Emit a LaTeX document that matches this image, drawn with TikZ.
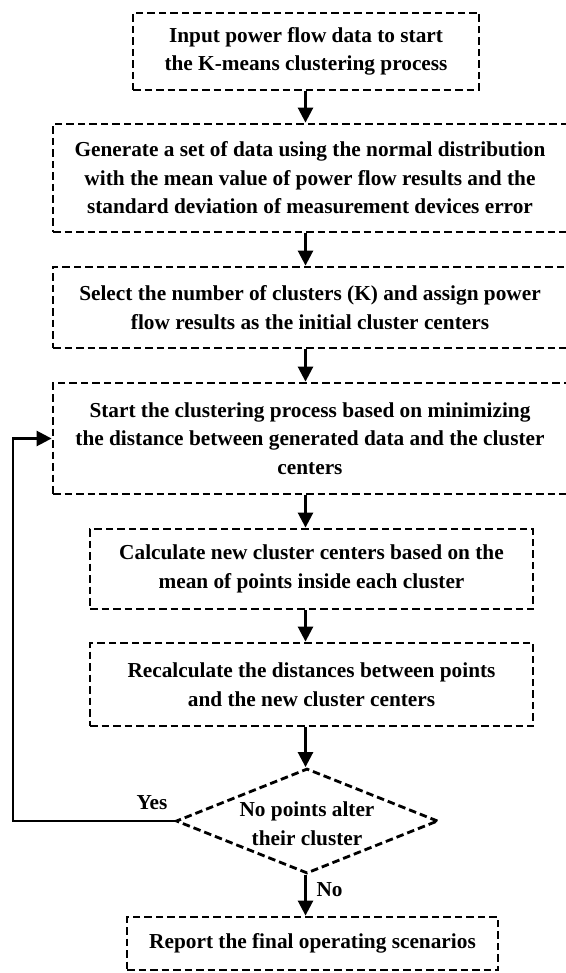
\documentclass[tikz,border=0pt]{standalone}
\usepackage{fontspec}
\setmainfont{Liberation Serif}
\usetikzlibrary{arrows.meta,shapes.geometric}
\newcommand{\flowfont}{\fontsize{21.3}{28.6}\selectfont\bfseries}
\tikzset{
  procbox/.style={draw,line width=2.8pt,dash pattern=on 7.5pt off 4pt,align=center,inner sep=0pt,font=\flowfont},
  decbox/.style={draw,diamond,line width=2.8pt,dash pattern=on 7.5pt off 4pt,inner sep=0pt},
  flow/.style={line width=2.6pt,-{Triangle[length=15pt,width=15pt]}},
  answer/.style={font=\flowfont}
}
\begin{document}
\begin{tikzpicture}[line join=miter,x=1pt,y=-1pt]
    \useasboundingbox (0,0) rectangle (565,973);
    \coordinate (axis) at (305.5,0);
    \coordinate (back) at (13,0);
    % process steps
    \node[procbox,minimum width=346pt,minimum height=77pt] (input) at (306,51.5) {Input power flow data to start\\the K-means clustering process};
    \node[procbox,minimum width=514pt,minimum height=108pt] (generate) at (310,178) {Generate a set of data using the normal distribution\\with the mean value of power flow results and the\\standard deviation of measurement devices error};
    \node[procbox,minimum width=514pt,minimum height=81pt] (select) at (310,307.5) {Select the number of clusters (K) and assign power\\flow results as the initial cluster centers};
    \node[procbox,minimum width=514pt,minimum height=111pt] (start) at (310,438.5) {Start the clustering process based on minimizing\\the distance between generated data and the cluster\\centers};
    \node[procbox,minimum width=443pt,minimum height=80pt] (calc) at (311.5,569) {Calculate new cluster centers based on the\\mean of points inside each cluster};
    \node[procbox,minimum width=443pt,minimum height=83pt] (recalc) at (311.5,684.5) {Recalculate the distances between points\\and the new cluster centers};
    \node[decbox,minimum width=262pt,minimum height=105pt,label={[answer,align=center,yshift=-3pt]center:No points alter\\their cluster}] (check) at (307,821) {};
    \node[procbox,minimum width=371pt,minimum height=53pt] (report) at (312.5,943.5) {Report the final operating scenarios};
    % answers
    \node[answer] (yes) at (152,803) {Yes};
    \node[answer,anchor=west] (no) at (313,890) {No};
    % connectors
    \draw[flow] (input.south -| axis) -- (generate.north -| axis);
    \draw[flow] (generate.south -| axis) -- (select.north -| axis);
    \draw[flow] (select.south -| axis) -- (start.north -| axis);
    \draw[flow] (start.south -| axis) -- (calc.north -| axis);
    \draw[flow] (calc.south -| axis) -- (recalc.north -| axis);
    \draw[flow] (recalc.south -| axis) -- (check.north -| axis);
    \draw[flow] (check.south -| axis) -- (report.north -| axis);
    \draw[flow] (check.west) -- (check.west -| back) |- (start.west);
\end{tikzpicture}
\end{document}
